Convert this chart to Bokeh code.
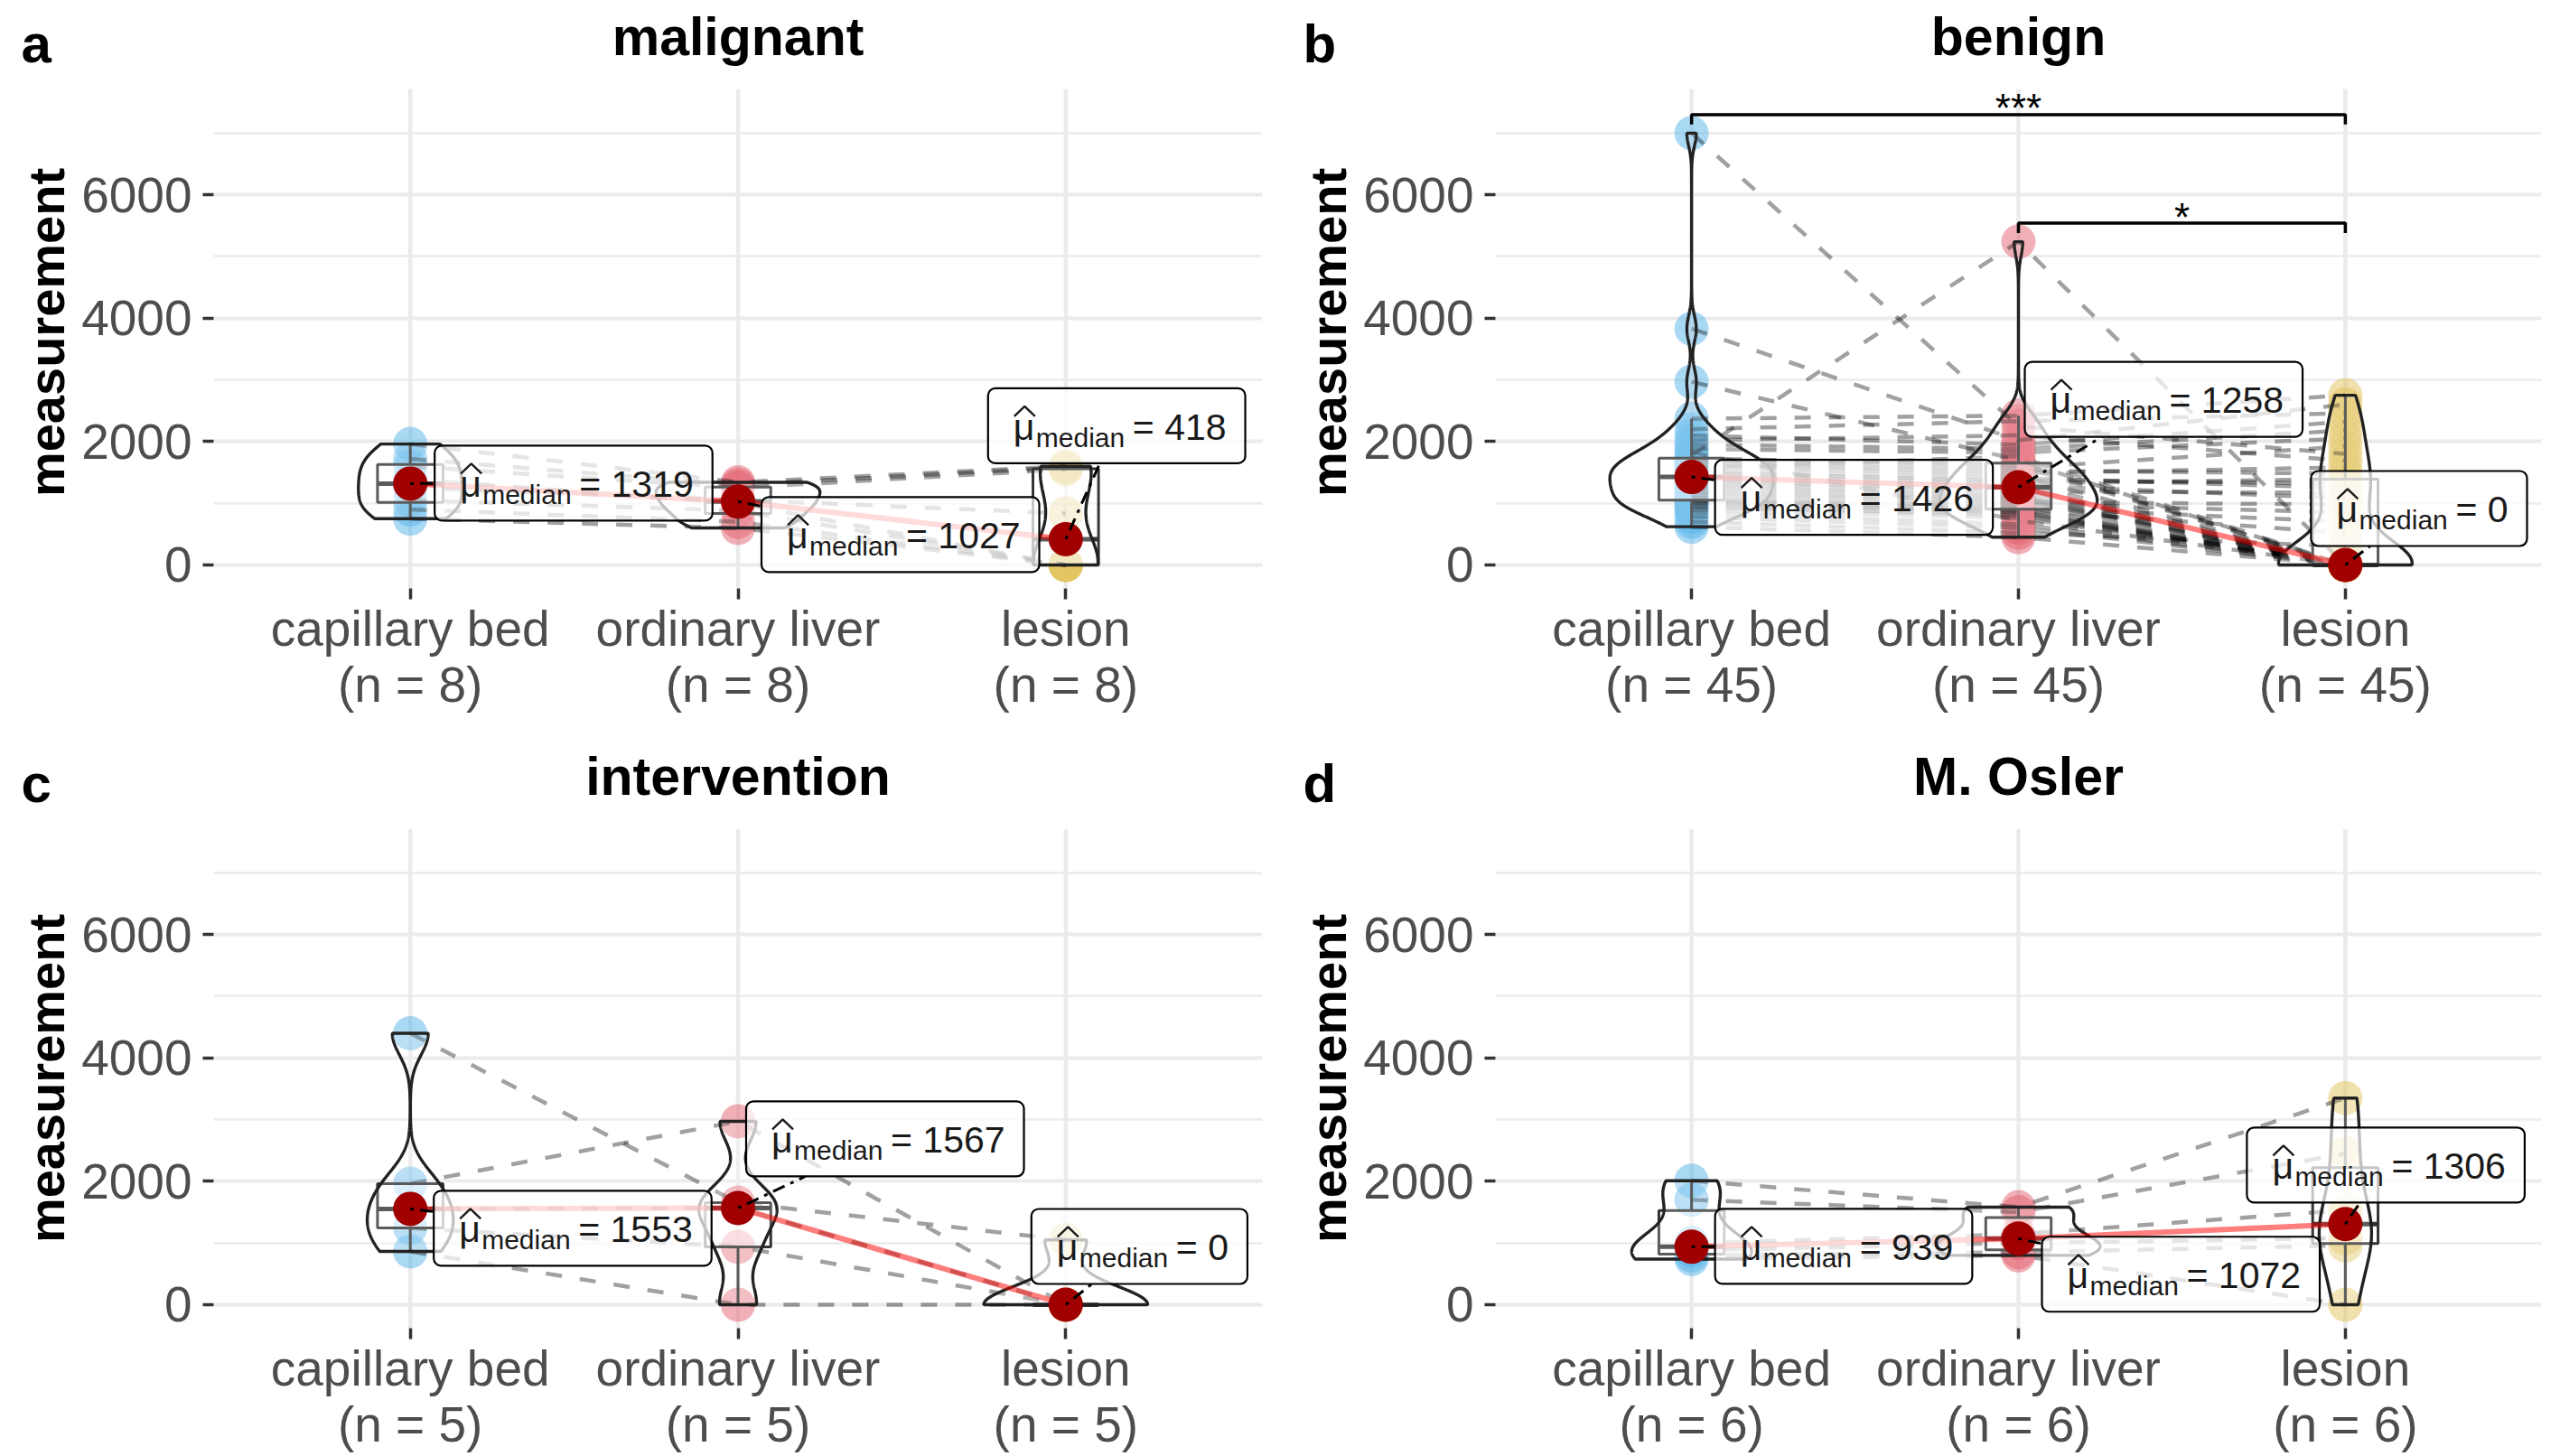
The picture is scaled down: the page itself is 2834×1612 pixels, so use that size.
import numpy as np
from bokeh.plotting import figure
from bokeh.models import Range1d, FixedTicker, ColumnDataSource, Quad, Plot
from bokeh.layouts import column, row
from bokeh.embed import file_html
from bokeh.resources import INLINE
from bokeh.core.properties import value

FONT = "Liberation Sans"

# ---------------- data ----------------
group_names = ["capillary bed", "ordinary liver", "lesion"]
group_colors = ["#56B4E9", "#E4626F", "#E2C157"]

panel_letters = ["a", "b", "c", "d"]
panel_titles = ["malignant", "benign", "intervention", "M. Osler"]

malignant_capillary = [1960, 1720, 1600, 1388, 1250, 1050, 900, 750]
malignant_ordinary = [1340, 1300, 1250, 1000, 1054, 880, 700, 600]
malignant_lesion = [1600, 1580, 1550, 0, 836, 0, 0, 0]

benign_capillary = [7000, 3830, 2970, 1780, 2370, 2200, 1426, 1050, 1630, 900,
                    1290, 2100, 1510, 620, 1380, 1730, 990, 1170, 1950, 850,
                    1600, 1450, 1030, 1250, 700, 1690, 1210, 1540, 930, 1880,
                    1350, 1090, 1660, 780, 1480, 1320, 1010, 2020, 1570, 1130,
                    1405, 960, 1710, 1045, 1830]
benign_ordinary = [2250, 2020, 1700, 5240, 2420, 2330, 1258, 905, 1490, 760,
                   1110, 1950, 1350, 450, 1190, 1610, 870, 1020, 1880, 660,
                   1450, 1320, 850, 1080, 520, 1570, 1050, 1410, 830, 1820,
                   1225, 930, 1530, 600, 1380, 1150, 890, 2100, 1760, 990,
                   1290, 800, 1650, 960, 720]
benign_lesion = [1800, 2600, 0, 0, 2750, 2460, 0, 0, 1580, 0,
                 0, 2320, 0, 0, 1170, 0, 0, 980, 2180, 0,
                 0, 1390, 0, 0, 300, 1920, 0, 1250, 0, 2050,
                 0, 700, 1480, 0, 1320, 0, 520, 1690, 0, 850,
                 1080, 0, 0, 0, 0]

intervention_capillary = [4400, 1962, 1553, 1244, 864]
intervention_ordinary = [1654, 2972, 1567, 937, 0]
intervention_lesion = [1050, 0, 0, 0, 0]

osler_capillary = [2010, 1700, 998, 880, 800, 740]
osler_ordinary = [1580, 1500, 1144, 1000, 850, 800]
osler_lesion = [3350, 2450, 1532, 1080, 960, 0]

y_major_ticks = [0, 2000, 4000, 6000]
y_minor_ticks = [1000, 3000, 5000, 7000]

benign_sig_pairs = [(1, 3), (2, 3)]
benign_sig_labels = ["***", "*"]

panel_data = [
    (malignant_capillary, malignant_ordinary, malignant_lesion),
    (benign_capillary, benign_ordinary, benign_lesion),
    (intervention_capillary, intervention_ordinary, intervention_lesion),
    (osler_capillary, osler_ordinary, osler_lesion),
]

# ---------------- layout / style ----------------
Y0, Y1 = -381, 7716          # visible panel area (ggplot limits)
X0, X1 = 0.4, 3.6
FH = 553                     # px height of the panel area
layout_cfg = [
    dict(fw=1161, left=236, right=18, head=98, bottom=155, letter_x=23, ext=14),
    dict(fw=1158, left=240, right=18, head=98, bottom=155, letter_x=27, ext=14),
    dict(fw=1161, left=236, right=18, head=111, bottom=140, letter_x=23, ext=0),
    dict(fw=1158, left=240, right=18, head=111, bottom=140, letter_x=27, ext=0),
]
# label box nudges in px: (left edge - point x, top edge - point y [down +])
label_nudges = [
    [(27, -42), (26, -5), (-86, -167)],
    [(26, -19), (7, -139), (-38, -104)],
    [(26, -20), (9, -118), (-38, -106)],
    [(26, -42), (26, -2), (-109, -107)],
]
GRID = "#EBEBEB"
BASE_SHIFT = 0.32          # alphabetic-baseline correction, in em
TITLE_FS, LETTER_FS, TICK_FS = 59, 60, 55
HAS_RADIUS = "border_radius" in Quad.properties()
HAS_FRAME_ALIGN = "frame_align" in Plot.properties()


def kde(vals, grid):
    v = np.asarray(vals, float)
    n = len(v)
    hi = np.std(v, ddof=1)
    q1, q3 = np.percentile(v, [25, 75])
    lo = min(hi, (q3 - q1) / 1.34)
    if lo == 0:
        lo = hi if hi > 0 else (abs(v[0]) if v[0] != 0 else 1.0)
    bw = 0.9 * lo * n ** -0.2
    z = (grid[:, None] - v[None, :]) / bw
    return np.exp(-0.5 * z * z).sum(axis=1) / (n * bw * np.sqrt(2 * np.pi))


def make_header(i):
    cfg = layout_cfg[i]
    W = cfg["left"] + cfg["fw"] + cfg["right"]
    H = cfg["head"] - cfg["ext"]
    h = figure(width=W, height=H, x_range=Range1d(0, W),
               y_range=Range1d(cfg["ext"], cfg["head"]),
               output_backend="svg", toolbar_location=None, min_border=0,
               x_axis_location=None, y_axis_location=None,
               background_fill_color="white", border_fill_color="white",
               outline_line_color=None)
    if HAS_FRAME_ALIGN:
        h.frame_align = False
    h.grid.visible = False
    h.text(x=[cfg["left"] + cfg["fw"] / 2], y=[39 + BASE_SHIFT * TITLE_FS], text=[panel_titles[i]],
           text_font=value(FONT), text_font_size=value(f"{TITLE_FS}px"), text_font_style="bold",
           text_color="black", text_align="center", text_baseline="alphabetic")
    h.text(x=[cfg["letter_x"]], y=[31 + BASE_SHIFT * LETTER_FS], text=[panel_letters[i]],
           text_font=value(FONT), text_font_size=value(f"{LETTER_FS}px"), text_font_style="bold",
           text_color="black", text_align="left", text_baseline="alphabetic")
    return h


def make_panel(i):
    cfg = layout_cfg[i]
    data = [np.asarray(g, float) for g in panel_data[i]]
    n = len(data[0])
    pxx = cfg["fw"] / (X1 - X0)
    pxy = FH / (Y1 - Y0)
    y_top = Y1 + cfg["ext"] / pxy

    p = figure(frame_width=cfg["fw"], frame_height=FH + cfg["ext"],
               x_range=Range1d(X0, X1), y_range=Range1d(Y0, y_top),
               output_backend="svg", toolbar_location=None,
               min_border_left=cfg["left"], min_border_right=cfg["right"],
               min_border_top=0, min_border_bottom=cfg["bottom"],
               background_fill_color="white", border_fill_color="white",
               outline_line_color=None)
    if HAS_FRAME_ALIGN:
        p.frame_align = False

    # axes
    yt = FixedTicker(ticks=y_major_ticks, minor_ticks=y_minor_ticks)
    xt = FixedTicker(ticks=[1, 2, 3])
    p.yaxis.ticker = yt
    p.xaxis.ticker = xt
    p.ygrid.ticker = yt
    p.ygrid.grid_line_color = GRID
    p.ygrid.grid_line_width = 4
    p.ygrid.minor_grid_line_color = GRID
    p.ygrid.minor_grid_line_width = 2.5
    p.xgrid.visible = False
    # vertical grid lines limited to the panel area
    p.segment(x0=[1, 2, 3], y0=[Y0] * 3, x1=[1, 2, 3], y1=[Y1] * 3,
              line_color=GRID, line_width=4.5)
    for ax in (p.xaxis[0], p.yaxis[0]):
        ax.axis_line_color = None
        ax.minor_tick_line_color = None
        ax.major_tick_in = 0
        ax.major_tick_out = 12
        ax.major_tick_line_color = "#333333"
        ax.major_tick_line_width = 3.5
        ax.major_label_text_font = FONT
        ax.major_label_text_font_size = f"{TICK_FS}px"
        ax.major_label_text_color = "#4D4D4D"
    p.yaxis.major_label_standoff = 12
    p.yaxis.axis_label = "measurement"
    p.yaxis.axis_label_text_font = FONT
    p.yaxis.axis_label_text_font_size = "56px"
    p.yaxis.axis_label_text_font_style = "bold"
    p.yaxis.axis_label_text_color = "black"
    p.yaxis.axis_label_standoff = 4
    p.xaxis.major_label_standoff = 1
    p.xaxis.major_label_text_line_height = 1.0
    p.xaxis.major_label_overrides = {
        k + 1: f"{group_names[k]}\n(n = {n})" for k in range(3)
    }

    # individual points
    for g in range(3):
        p.scatter(x=[g + 1] * n, y=data[g], size=38, fill_color=group_colors[g],
                  fill_alpha=0.5, line_color=None)

    # paired dashed paths
    xs = [[1, 2, 3] for _ in range(n)]
    ys = [[data[0][k], data[1][k], data[2][k]] for k in range(n)]
    p.multi_line(xs, ys, line_color="black", line_alpha=0.37, line_width=4.5,
                 line_dash="18 20")

    # boxplots
    medians = []
    for g in range(3):
        v = data[g]
        q1, med, q3 = np.percentile(v, [25, 50, 75])
        medians.append(med)
        iqr = q3 - q1
        up = v[v <= q3 + 1.5 * iqr].max()
        lo = v[v >= q1 - 1.5 * iqr].min()
        p.segment(x0=[g + 1, g + 1], y0=[q3, q1], x1=[g + 1, g + 1], y1=[up, lo],
                  line_color="#333333", line_width=3)
        p.quad(left=[g + 1 - 0.1], right=[g + 1 + 0.1], bottom=[q1], top=[q3],
               fill_color="white", fill_alpha=0.5, line_color="#333333",
               line_width=3)
        p.segment(x0=[g + 1 - 0.1], y0=[med], x1=[g + 1 + 0.1], y1=[med],
                  line_color="#333333", line_width=5)

    # violins (area scaled within the panel)
    grids = [np.linspace(v.min(), v.max(), 512) for v in data]
    dens = [kde(data[g], grids[g]) for g in range(3)]
    dmax = max(d.max() for d in dens)
    vx, vy = [], []
    for g in range(3):
        half = 0.25 * dens[g] / dmax
        vx.append(np.concatenate([g + 1 - half, (g + 1 + half)[::-1]]))
        vy.append(np.concatenate([grids[g], grids[g][::-1]]))
    p.patches(vx, vy, fill_color="white", fill_alpha=0.2, line_color="#222222",
              line_width=3.4)

    # centrality path and points
    p.line([1, 2, 3], medians, line_color="red", line_alpha=0.5, line_width=6)
    p.scatter([1, 2, 3], medians, size=38, fill_color="#A00000", line_color=None)

    # median labels
    box = dict(left=[], right=[], top=[], bottom=[])
    mu = dict(x=[], y=[], t=[])
    sub = dict(x=[], y=[], t=[])
    rest = dict(x=[], y=[], t=[])
    hat_x, hat_y = [], []
    seg = dict(x0=[], y0=[], x1=[], y1=[])
    for g in range(3):
        med = medians[g]
        dx, dy = label_nudges[i][g]
        num = str(int(round(med)))
        w = 160 + 41 * (0.584 + 0.278 + 0.556 * len(num)) + 21
        h = 83
        left = (g + 1) + dx / pxx
        right = left + w / pxx
        top = med - dy / pxy
        bottom = top - h / pxy
        base = top - 56 / pxy
        sub_base = top - 64 / pxy
        box["left"].append(left); box["right"].append(right)
        box["top"].append(top); box["bottom"].append(bottom)
        mu["x"].append(left + 28 / pxx); mu["y"].append(base + BASE_SHIFT * 41 / pxy)
        mu["t"].append("\u03bc")
        hat_x.append([left + 29 / pxx, left + 40.5 / pxx, left + 52 / pxx])
        hat_y.append([base + 25 / pxy, base + 36 / pxy, base + 25 / pxy])
        sub["x"].append(left + 53 / pxx); sub["y"].append(sub_base + BASE_SHIFT * 30 / pxy)
        sub["t"].append("median")
        rest["x"].append(left + 160 / pxx); rest["y"].append(base + BASE_SHIFT * 41 / pxy)
        rest["t"].append("= " + num)
        # repel segment from point toward label centre, clipped at the box
        px_, py_ = g + 1, med
        cx, cy = (left + right) / 2, (top + bottom) / 2
        ts = []
        if px_ < left:
            ts.append((left - px_) / (cx - px_))
        elif px_ > right:
            ts.append((right - px_) / (cx - px_))
        if py_ < bottom:
            ts.append((bottom - py_) / (cy - py_))
        elif py_ > top:
            ts.append((top - py_) / (cy - py_))
        if ts:
            t = max(ts)
            ex, ey = px_ + t * (cx - px_), py_ + t * (cy - py_)
            dist = np.hypot((ex - px_) * pxx, (ey - py_) * pxy)
            if dist > 25:
                seg["x0"].append(px_); seg["y0"].append(py_)
                seg["x1"].append(ex); seg["y1"].append(ey)
    if seg["x0"]:
        p.segment(x0="x0", y0="y0", x1="x1", y1="y1", source=ColumnDataSource(seg),
                  line_color="black", line_width=3, line_dash="4 7 14 7")
    qkw = dict(fill_color="white", fill_alpha=0.72, line_color="black", line_width=2.2)
    if HAS_RADIUS:
        qkw["border_radius"] = 8
    p.quad(left="left", right="right", top="top", bottom="bottom",
           source=ColumnDataSource(box), **qkw)
    for src, size in ((mu, "41px"), (sub, "30px"), (rest, "41px")):
        p.text(x="x", y="y", text="t", source=ColumnDataSource(src),
               text_font=value(FONT), text_font_size=value(size),
               text_color="#1A1A1A", text_align="left", text_baseline="alphabetic")
    p.multi_line(hat_x, hat_y, line_color="#1A1A1A", line_width=2.4)

    # significance brackets (benign panel)
    if i == 1:
        tip = 160
        bx, by, sx, sy, st = [], [], [], [], []
        for (a, b), lab in zip(benign_sig_pairs, benign_sig_labels):
            top_y = max(data[a - 1].max(), data[b - 1].max()) + 300
            bx.append([a, a, b, b]); by.append([top_y - tip, top_y, top_y, top_y - tip])
            sx.append((a + b) / 2); sy.append(top_y + 7 / pxy); st.append(lab)
        p.multi_line(bx, by, line_color="black", line_width=3.5)
        p.text(x=sx, y=sy, text=st, text_font=value(FONT), text_font_size=value("44px"),
               text_color="black", text_align="center", text_baseline="alphabetic")
    return p


cols = [column(make_header(i), make_panel(i)) for i in range(4)]
layout = column(row(cols[0], cols[1]), row(cols[2], cols[3]))

open("out.html", "w").write(file_html(layout, INLINE))
